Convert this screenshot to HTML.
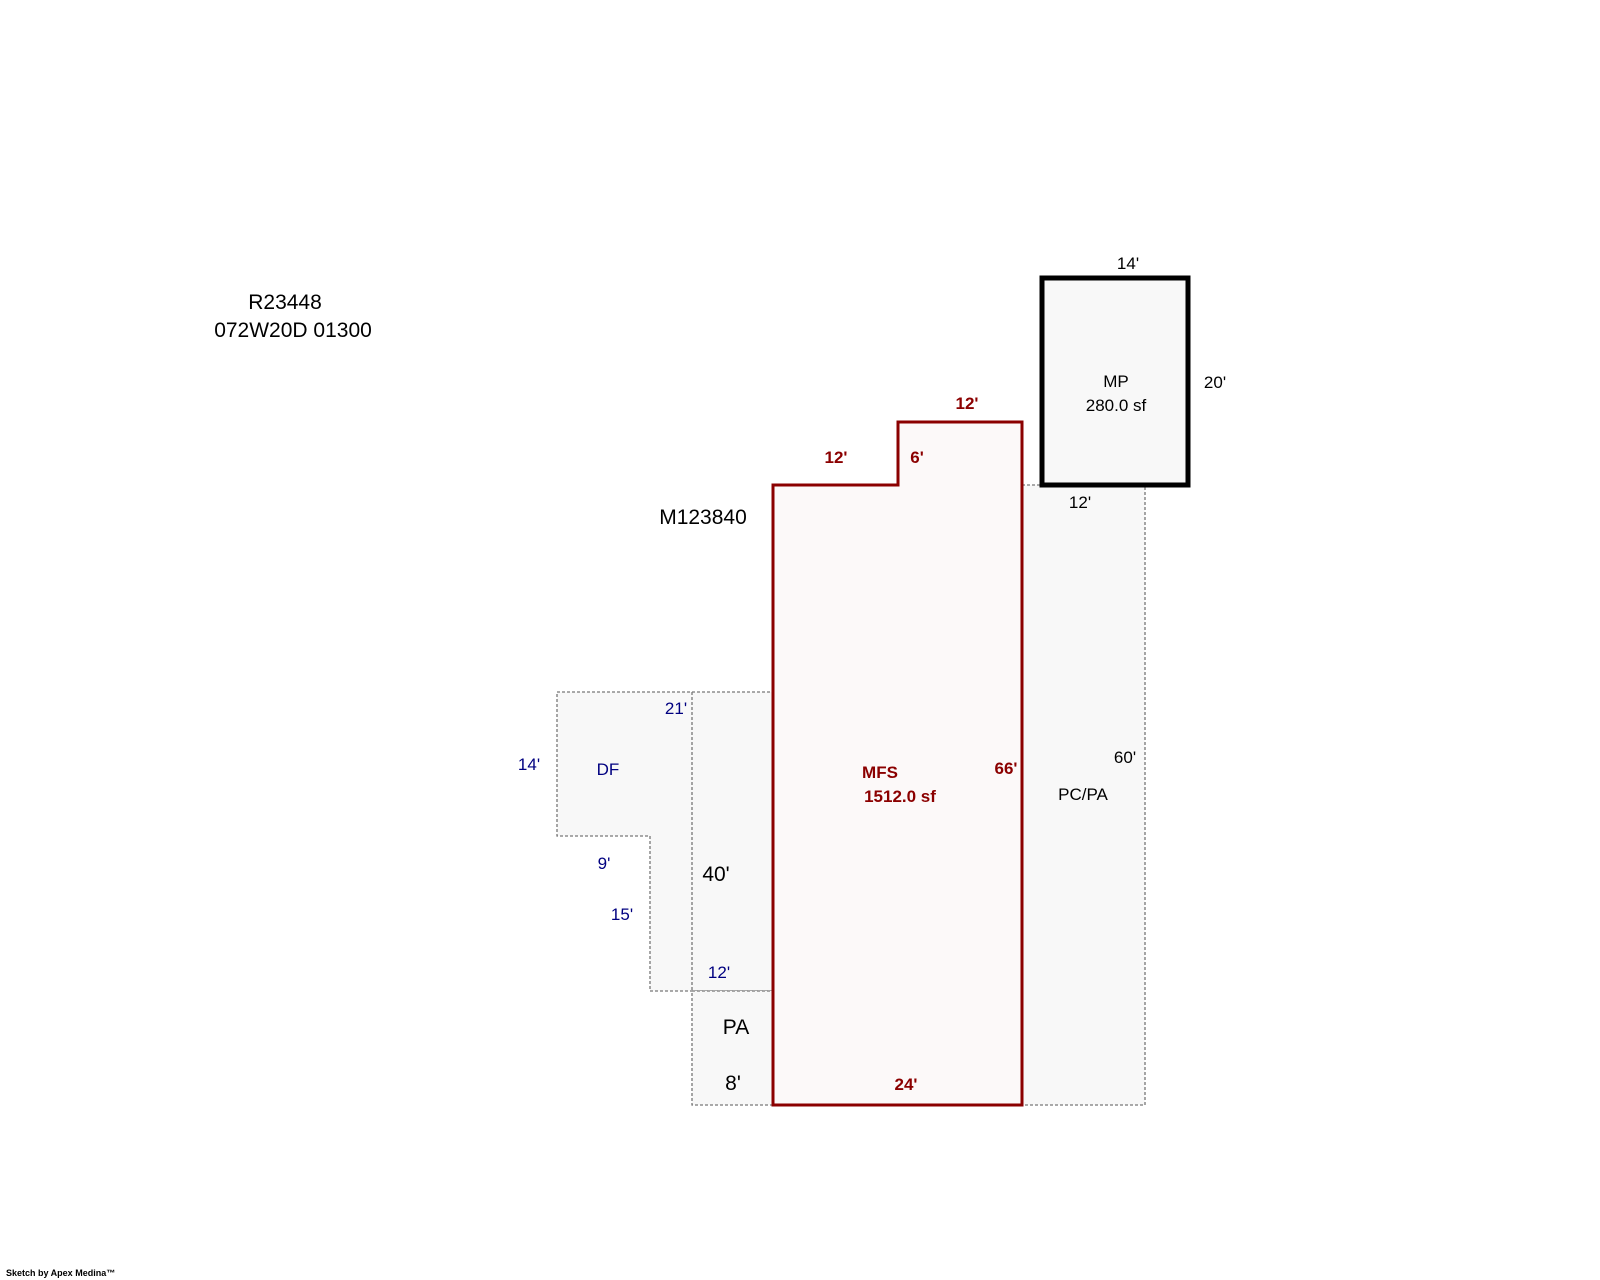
<!DOCTYPE html>
<html><head><style>
body{margin:0;background:#fff;}
svg{display:block}
text{font-family:"Liberation Sans",Arial,sans-serif;}
</style></head><body>
<svg width="1600" height="1280" xmlns="http://www.w3.org/2000/svg">
<rect x="1022" y="485" width="123" height="620" fill="#f8f8f8" stroke="#777" stroke-width="1.3" stroke-dasharray="3,2"/>
<polygon points="557,692 773,692 773,991 650,991 650,836 557,836" fill="#f8f8f8" stroke="#777" stroke-width="1.3" stroke-dasharray="3,2"/>
<line x1="692" y1="692" x2="692" y2="991" stroke="#777" stroke-width="1.3" stroke-dasharray="3,2"/>
<rect x="692" y="991" width="81" height="114" fill="#f8f8f8" stroke="#777" stroke-width="1.3" stroke-dasharray="3,2"/>
<polygon points="773,485 898,485 898,422 1022,422 1022,1105 773,1105" fill="#fcf9f9" stroke="#8b0000" stroke-width="3"/>
<rect x="1042" y="278" width="146" height="207" fill="#f8f8f8" stroke="#000" stroke-width="5"/>

<g font-size="21" fill="#000">
<text x="285" y="309" text-anchor="middle">R23448</text>
<text x="293" y="337" text-anchor="middle">072W20D 01300</text>
<text x="703" y="524" text-anchor="middle">M123840</text>
<text x="716" y="881" text-anchor="middle">40'</text>
<text x="736" y="1034" text-anchor="middle">PA</text>
<text x="733" y="1090" text-anchor="middle">8'</text>
</g>
<g font-size="17" fill="#000" text-anchor="middle">
<text x="1128" y="269">14'</text>
<text x="1215" y="388">20'</text>
<text x="1116" y="387">MP</text>
<text x="1116" y="411">280.0 sf</text>
<text x="1080" y="508">12'</text>
<text x="1125" y="763">60'</text>
<text x="1083" y="800">PC/PA</text>
</g>
<g font-size="17" fill="#000080" text-anchor="middle">
<text x="676" y="714">21'</text>
<text x="529" y="770">14'</text>
<text x="608" y="775">DF</text>
<text x="604" y="869">9'</text>
<text x="622" y="920">15'</text>
<text x="719" y="978">12'</text>
</g>
<g font-size="17" fill="#8b0000" font-weight="bold" text-anchor="middle">
<text x="967" y="409">12'</text>
<text x="836" y="463">12'</text>
<text x="917" y="463">6'</text>
<text x="1006" y="774">66'</text>
<text x="880" y="778">MFS</text>
<text x="900" y="802">1512.0 sf</text>
<text x="906" y="1090">24'</text>
</g>
<text x="6" y="1276" font-size="9" font-weight="600" fill="#000">Sketch by Apex Medina™</text>
</svg>
</body></html>
